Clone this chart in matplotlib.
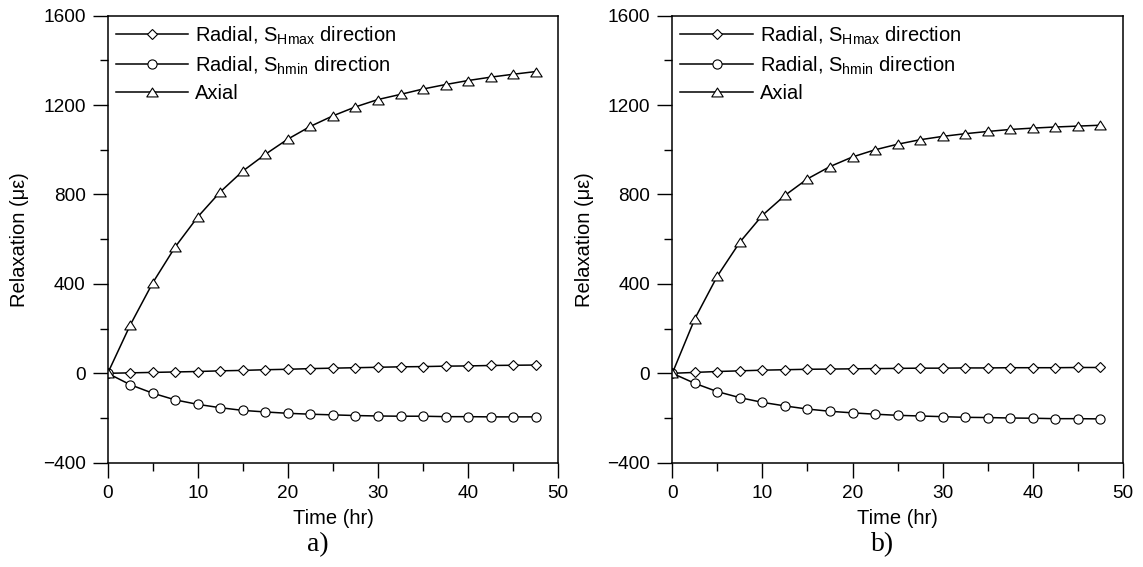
import matplotlib
matplotlib.use("Agg")
import matplotlib.pyplot as plt
from matplotlib.path import Path
from matplotlib.ticker import MultipleLocator

plt.rcParams['font.family'] = ['Liberation Sans', 'DejaVu Sans']
plt.rcParams['mathtext.fontset'] = 'custom'
plt.rcParams['mathtext.rm'] = 'Liberation Sans'
plt.rcParams['mathtext.it'] = 'Liberation Sans:italic'

time_hr = [0, 2.5, 5, 7.5, 10, 12.5, 15, 17.5, 20, 22.5, 25, 27.5, 30,
           32.5, 35, 37.5, 40, 42.5, 45, 47.5]

# Panel a)
a_hmax = [0, 2, 4, 6, 8, 11, 13, 16, 18, 21, 23, 25, 27, 29, 30, 32, 33, 35, 36, 37]
a_hmin = [0, -51, -89, -119, -139, -154, -166, -173, -179, -183, -186, -189,
          -191, -192, -192, -194, -194, -195, -195, -195]
a_axial = [0, 216, 405, 566, 700, 812, 905, 980, 1048, 1105, 1152, 1192,
           1225, 1248, 1272, 1292, 1310, 1325, 1338, 1350]

# Panel b)
b_hmax = [0, 4, 8, 11, 14, 16, 18, 19, 20, 21, 22, 23, 23, 24, 24, 25, 25, 25, 26, 26]
b_hmin = [0, -45, -82, -109, -130, -146, -160, -170, -177, -183, -188, -191,
          -194, -197, -198, -200, -201, -203, -203, -204]
b_axial = [0, 244, 435, 587, 707, 796, 870, 925, 968, 1000, 1025, 1045,
           1060, 1072, 1082, 1091, 1097, 1102, 1106, 1110]

labels = [r'Radial, S$_{\mathrm{Hmax}}$ direction',
          r'Radial, S$_{\mathrm{hmin}}$ direction',
          'Axial']
captions = ['a)', 'b)']

tri = Path([(-1, -0.78), (1, -0.78), (0, 0.78), (-1, -0.78)],
           [Path.MOVETO, Path.LINETO, Path.LINETO, Path.CLOSEPOLY])

W, H = 1143, 567
fig = plt.figure(figsize=(W / 100, H / 100), dpi=100)

panels = [(a_hmax, a_hmin, a_axial), (b_hmax, b_hmin, b_axial)]
lefts = [107.7, 672.3]
for i, (hmax, hmin, axial) in enumerate(panels):
    ax = fig.add_axes([lefts[i] / W, 1 - 462.7 / H, 450.5 / W, 447 / H])
    common = dict(color='black', lw=1.1, mfc='white', mec='black', mew=0.8)
    ax.plot(time_hr, hmax, marker='D', ms=5.0, label=labels[0], **common)
    ax.plot(time_hr, hmin, marker='o', ms=6.6, label=labels[1], **common)
    ax.plot(time_hr, axial, marker=tri, ms=8.2, label=labels[2], **common)
    ax.set_xlim(0, 50)
    ax.set_ylim(-400, 1600)
    ax.xaxis.set_major_locator(MultipleLocator(10))
    ax.xaxis.set_minor_locator(MultipleLocator(5))
    ax.yaxis.set_major_locator(MultipleLocator(400))
    ax.yaxis.set_minor_locator(MultipleLocator(200))
    ax.tick_params(which='major', direction='out', length=10.8, width=1.0,
                   labelsize=13.7, pad=5)
    ax.tick_params(which='minor', direction='out', length=5.5, width=1.0)
    for s in ax.spines.values():
        s.set_linewidth(1.1)
    ax.set_xlabel('Time (hr)', fontsize=14.5, labelpad=5.5)
    ax.set_ylabel('Relaxation (\u03bc\u03b5)', fontsize=14.5, labelpad=10)
    leg = ax.legend(loc='upper left', bbox_to_anchor=(0.018, 0.9805),
                    frameon=False, fontsize=14.5, handlelength=3.6,
                    handletextpad=0.35, labelspacing=0.38, borderpad=0,
                    borderaxespad=0)
    cx = (lefts[i] + 450.5 / 2 - 15) / W
    fig.text(cx, 1 - 545 / H, captions[i], ha='center', va='center',
             fontsize=20, family='Liberation Serif')

fig.savefig('out.png', dpi=100)
